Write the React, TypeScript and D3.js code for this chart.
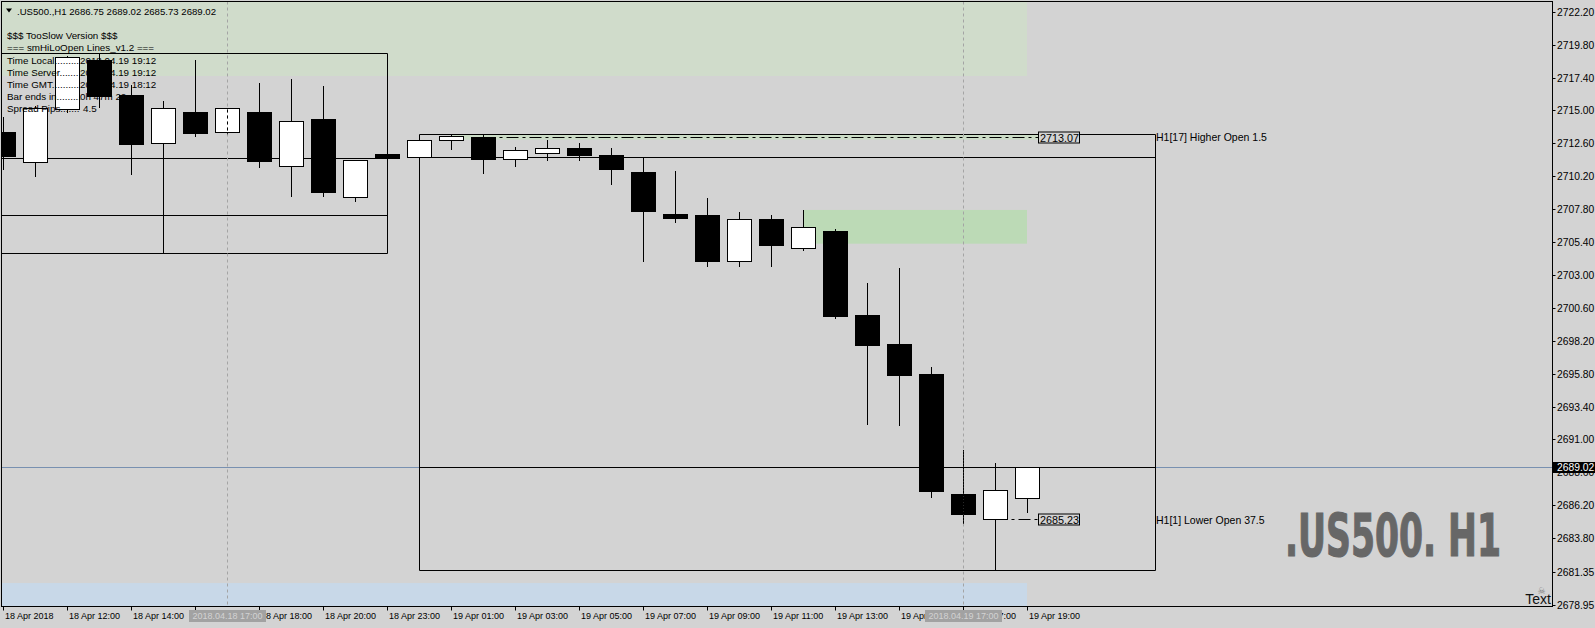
import React from 'react';
import * as d3 from 'd3';

// ---------- data ----------
const barTimes = [
  '18 Apr 10:00', '18 Apr 11:00', '18 Apr 12:00', '18 Apr 13:00', '18 Apr 14:00', '18 Apr 15:00',
  '18 Apr 16:00', '18 Apr 17:00', '18 Apr 18:00', '18 Apr 19:00', '18 Apr 20:00', '18 Apr 21:00',
  '18 Apr 23:00', '19 Apr 00:00', '19 Apr 01:00', '19 Apr 02:00', '19 Apr 03:00', '19 Apr 04:00',
  '19 Apr 05:00', '19 Apr 06:00', '19 Apr 07:00', '19 Apr 08:00', '19 Apr 09:00', '19 Apr 10:00',
  '19 Apr 11:00', '19 Apr 12:00', '19 Apr 13:00', '19 Apr 14:00', '19 Apr 15:00', '19 Apr 16:00',
  '19 Apr 17:00', '19 Apr 18:00', '19 Apr 19:00',
];
const opens = [
  2713.43, 2711.22, 2715.10, 2718.68, 2716.12, 2712.60, 2714.88, 2713.40, 2714.88, 2710.97, 2714.37,
  2708.71, 2711.80, 2711.58, 2712.82, 2713.07, 2711.48, 2711.92, 2712.26, 2711.75, 2710.51, 2707.45,
  2707.37, 2704.04, 2707.08, 2704.94, 2706.21, 2700.08, 2697.96, 2695.78, 2687.02, 2685.23, 2686.75,
];
const highs = [
  2714.54, 2715.30, 2719.00, 2719.17, 2716.85, 2715.69, 2718.68, 2715.20, 2716.98, 2717.27, 2716.78,
  2711.36, 2711.85, 2712.82, 2713.26, 2713.26, 2712.33, 2712.82, 2712.62, 2712.26, 2711.55, 2710.58,
  2708.61, 2707.59, 2707.37, 2707.74, 2706.35, 2702.41, 2703.51, 2696.29, 2690.23, 2689.26, 2689.02,
];
const lows = [
  2710.73, 2710.24, 2714.88, 2715.27, 2710.34, 2704.58, 2713.16, 2713.35, 2710.90, 2708.78, 2708.78,
  2708.42, 2711.50, 2711.58, 2712.19, 2710.46, 2710.97, 2711.41, 2711.41, 2709.65, 2704.04, 2706.88,
  2703.67, 2703.67, 2703.67, 2704.84, 2699.88, 2692.15, 2692.08, 2686.83, 2684.91, 2681.48, 2685.73,
];
const closes = [
  2711.70, 2715.15, 2718.90, 2716.07, 2712.57, 2715.15, 2713.37, 2715.15, 2711.33, 2714.21, 2709.07,
  2711.36, 2711.55, 2712.82, 2713.13, 2711.48, 2712.09, 2712.24, 2711.77, 2710.75, 2707.69, 2707.18,
  2704.04, 2707.08, 2705.18, 2706.50, 2700.01, 2697.89, 2695.70, 2687.26, 2685.59, 2687.29, 2689.02,
];

const priceTicks = [
  2722.20, 2719.80, 2717.40, 2715.00, 2712.60, 2710.20, 2707.80, 2705.40, 2703.00, 2700.60,
  2698.20, 2695.80, 2693.40, 2691.00, 2688.60, 2686.20, 2683.80, 2681.35, 2678.95,
];
const timeTickBars = [0, 2, 4, 6, 8, 10, 12, 14, 16, 18, 20, 22, 24, 26, 28, 30, 32];
const timeTickLabels = [
  '18 Apr 2018', '18 Apr 12:00', '18 Apr 14:00', '18 Apr 16:00', '18 Apr 18:00', '18 Apr 20:00',
  '18 Apr 23:00', '19 Apr 01:00', '19 Apr 03:00', '19 Apr 05:00', '19 Apr 07:00', '19 Apr 09:00',
  '19 Apr 11:00', '19 Apr 13:00', '19 Apr 15:00', '19 Apr 17:00', '19 Apr 19:00',
];
const crossBars = [7, 30];
const crossLabels = ['2018.04.18 17:00', '2018.04.19 17:00'];

const lastPrice = 2689.02;
const headerText = '.US500.,H1  2686.75 2689.02 2685.73 2689.02';
const infoTitles = ['$$$ TooSlow Version $$$', '=== smHiLoOpen Lines_v1.2 ==='];
const infoLabels = ['Time Local.........', 'Time Server.......', 'Time GMT..........', 'Bar ends in.........', 'Spread Pips.......'];
const infoValues = ['2018.04.19 19:12', '2018.04.19 19:12', '2018.04.19 18:12', '0h 47m 22s', '4.5'];

// day range boxes: [startBar, endBar], levels (high, open, mid, low)
const prevDayBars = [-2, 12];
const prevDayLevels = [2719.17, 2711.56, 2707.35, 2704.58];
const todayBars = [13, 36];
const todayLevels = [2713.26, 2711.58, 2689.02, 2681.48];

// zones: [startBar, endBar, topPrice, bottomPrice]
const zoneTop = [-2, 32, 2724.0, 2717.51];
const zoneMid = [25, 32, 2707.74, 2705.28];
const zoneBottom = [-2, 32, 2680.53, 2677.0];
const zoneThin = [14, 32.34, 2713.28, 2712.88];

const higherOpenBar = 15;
const higherOpenPrice = 2713.07;
const higherOpenText = 'H1[17] Higher Open 1.5';
const lowerOpenBar = 31;
const lowerOpenPrice = 2685.23;
const lowerOpenText = 'H1[1] Lower Open 37.5';
const watermark = '.US500. H1';

// ---------- layout ----------
const W = 1595;
const H = 628;
const plotL = 1.5;
const plotT = 1.5;
const plotR = 1552.5;
const plotB = 606.5;
const FONT = "'Liberation Sans', Arial, sans-serif";

export default function App() {
  const x = d3.scaleLinear().domain([0, 32]).range([3, 1027]);
  const y = d3.scaleLinear().domain([2722.2, 2678.95]).range([11.7, 604.7]);
  const px = (i: number) => Math.round(x(i)) + 0.5;
  const py = (p: number) => Math.round(y(p)) + 0.5;

  const labelX = Math.round(x(32)) + 11;
  const labelW = 41;

  const zoneRect = (z: number[], fill: string, key: string) => (
    <rect key={key} x={x(z[0])} y={y(z[2])} width={x(z[1]) - x(z[0])} height={y(z[3]) - y(z[2])} fill={fill} />
  );

  const dayBox = (bars: number[], levels: number[], key: string) => {
    const x0 = px(bars[0]);
    const x1 = px(bars[1]);
    return (
      <g key={key} stroke="#000" strokeWidth={1} fill="none">
        {levels.map((lv, k) => (
          <line key={k} x1={x0} x2={x1} y1={py(lv)} y2={py(lv)} />
        ))}
        <line x1={x0} x2={x0} y1={py(levels[0])} y2={py(levels[levels.length - 1])} />
        <line x1={x1} x2={x1} y1={py(levels[0])} y2={py(levels[levels.length - 1])} />
      </g>
    );
  };

  const dash = '12,4,3,4';

  return (
    <div style={{ position: 'fixed', left: 0, top: 0, width: W, height: H, background: '#d3d3d3' }}>
      <svg width={W} height={H} style={{ display: 'block' }}>
        <defs>
          <clipPath id="plot">
            <rect x={plotL} y={plotT} width={plotR - plotL} height={plotB - plotT} />
          </clipPath>
        </defs>
        <rect x={0} y={0} width={W} height={H} fill="#d3d3d3" />
        <g clipPath="url(#plot)">
          {zoneRect(zoneTop, '#d0dccb', 'zt')}
          {zoneRect(zoneMid, '#bcdab6', 'zm')}
          {zoneRect(zoneBottom, '#c8d8e8', 'zb')}
          {zoneRect(zoneThin, '#cbdcc6', 'zth')}

          {/* watermark */}
          <text
            x={1285}
            y={556}
            fontFamily="'DejaVu Sans Condensed', 'DejaVu Sans', sans-serif"
            fontWeight="bold"
            fontSize={59}
            fill="#676767"
            stroke="#676767"
            strokeWidth={1.2}
            textLength={216}
            lengthAdjust="spacingAndGlyphs"
          >
            {watermark}
          </text>

          {/* bid line */}
          <line x1={plotL} x2={plotR} y1={py(lastPrice)} y2={py(lastPrice)} stroke="#7890b0" strokeWidth={1} />

          {dayBox(prevDayBars, prevDayLevels, 'pd')}
          {dayBox(todayBars, todayLevels, 'td')}

          {/* open level dash lines */}
          <line x1={px(higherOpenBar)} x2={labelX} y1={py(higherOpenPrice)} y2={py(higherOpenPrice)} stroke="#000" strokeDasharray={dash} />
          <line x1={px(lowerOpenBar)} x2={labelX} y1={py(lowerOpenPrice)} y2={py(lowerOpenPrice)} stroke="#000" strokeDasharray={dash} />

          {/* candles */}
          {opens.map((o, i) => {
            const c = closes[i];
            const cx = px(i);
            const bull = c > o;
            const top = Math.round(y(Math.max(o, c))) + 0.5;
            const bot = Math.round(y(Math.min(o, c))) + 0.5;
            return (
              <g key={barTimes[i]}>
                <line x1={cx} x2={cx} y1={Math.round(y(highs[i]))} y2={Math.round(y(lows[i])) + 1} stroke="#000" />
                <rect
                  x={cx - 12}
                  y={top}
                  width={24}
                  height={Math.max(bot - top, 1)}
                  fill={bull ? '#fff' : '#000'}
                  stroke="#000"
                  strokeWidth={1}
                />
              </g>
            );
          })}

          {/* crosshair vertical lines */}
          {crossBars.map((b) => (
            <g key={b}>
              <line x1={px(b)} x2={px(b)} y1={plotT} y2={plotB} stroke="#a4a4a4" strokeDasharray="3,3" />
              <line
                x1={px(b)}
                x2={px(b)}
                y1={plotT}
                y2={plotB}
                stroke="#000"
                strokeDasharray="3,3"
                clipPath={`url(#cb${b})`}
              />
              <clipPath id={`cb${b}`}>
                <rect x={px(b) - 2} y={Math.round(y(highs[b]))} width={4} height={y(lows[b]) - y(highs[b]) + 1} />
              </clipPath>
            </g>
          ))}

          {/* info texts */}
          <g fontFamily={FONT} fontSize={9.8} fill="#000">
            <text x={7} y={35} dominantBaseline="central">{infoTitles[0]}</text>
            <text x={7} y={47.5} dominantBaseline="central">{infoTitles[1]}</text>
            {infoLabels.map((l, k) => (
              <g key={l}>
                <text x={7} y={60 + k * 12} dominantBaseline="central">{l}</text>
                <text x={k === 4 ? 83 : 80} y={60 + k * 12} dominantBaseline="central">{infoValues[k]}</text>
              </g>
            ))}
          </g>

          {/* header */}
          <path d="M6,8.5 L12,8.5 L9,12.5 Z" fill="#000" />
          <text x={17} y={11} dominantBaseline="central" fontFamily={FONT} fontSize={9.6} fill="#000">
            {headerText}
          </text>

          {/* price labels */}
          {[higherOpenPrice, lowerOpenPrice].map((p) => (
            <g key={p}>
              <rect x={labelX + 0.5} y={py(p) - 5.5} width={labelW} height={11} fill="#d3d3d3" stroke="#000" />
              <text x={labelX + 2} y={py(p)} dominantBaseline="central" fontFamily={FONT} fontSize={10.8} fill="#000">
                {p.toFixed(2)}
              </text>
            </g>
          ))}
          <text x={px(36) + 0.5} y={py(higherOpenPrice) - 1} dominantBaseline="central" fontFamily={FONT} fontSize={10.5} fill="#000">
            {higherOpenText}
          </text>
          <text x={px(36) + 0.5} y={py(lowerOpenPrice)} dominantBaseline="central" fontFamily={FONT} fontSize={10.5} fill="#000">
            {lowerOpenText}
          </text>

          {/* Text label */}
          <text x={1541.5} y={591} textAnchor="middle" dominantBaseline="central" fontFamily="'DejaVu Sans', sans-serif" fontSize={9} fill="#808080">
            ☠
          </text>
          <text x={1551} y={604} textAnchor="end" fontFamily={FONT} fontSize={14} fill="#111">
            Text
          </text>
        </g>

        {/* frame */}
        <rect x={plotL} y={plotT} width={plotR - plotL} height={plotB - plotT} fill="none" stroke="#000" strokeWidth={1} />

        {/* right axis */}
        <g fontFamily={FONT} fontSize={10.3} fill="#000">
          {priceTicks.map((t) => (
            <g key={t}>
              <line x1={plotR} x2={plotR + 3} y1={py(t)} y2={py(t)} stroke="#000" />
              <text x={plotR + 4.5} y={py(t)} dominantBaseline="central">{t.toFixed(2)}</text>
            </g>
          ))}
          <rect x={plotR + 0.5} y={py(lastPrice) - 5.5} width={W - plotR} height={11} fill="#000" />
          <text x={plotR + 4.5} y={py(lastPrice)} dominantBaseline="central" fill="#fff">{lastPrice.toFixed(2)}</text>
        </g>

        {/* bottom axis */}
        <g fontFamily={FONT} fontSize={9} fill="#000">
          {timeTickBars.map((b, k) => (
            <g key={b}>
              <line x1={px(b)} x2={px(b)} y1={plotB} y2={plotB + 4} stroke="#000" />
              <text x={px(b) + 1.5} y={616} dominantBaseline="central">{timeTickLabels[k]}</text>
            </g>
          ))}
          {crossBars.map((b, k) => (
            <g key={b}>
              <rect x={px(b) - 38.5} y={610} width={77} height={12} fill="#a2a2a2" />
              <text x={px(b)} y={616} textAnchor="middle" dominantBaseline="central" fill="#d2d2d2">{crossLabels[k]}</text>
            </g>
          ))}
        </g>
      </svg>
    </div>
  );
}
